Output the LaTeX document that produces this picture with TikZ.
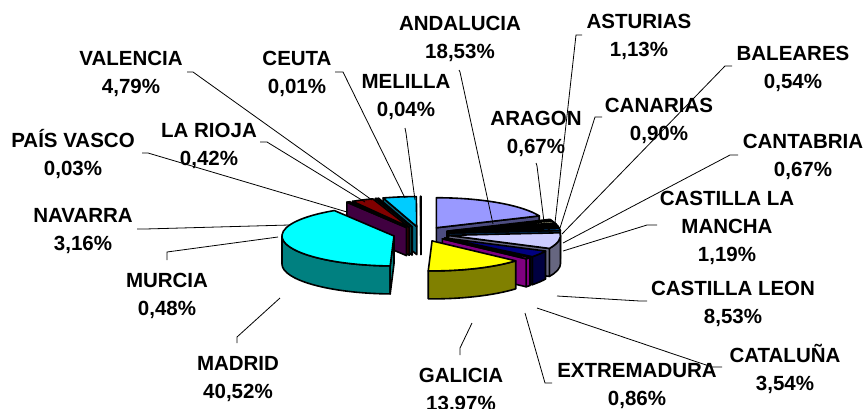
\documentclass[tikz,border=0pt]{standalone}
\usepackage{fontspec}
\setmainfont{Liberation Sans}
\definecolor{cAnd}{HTML}{9999FF}
\definecolor{cAra}{HTML}{993366}
\definecolor{cAst}{HTML}{FFFFCC}
\definecolor{cBal}{HTML}{CCFFFF}
\definecolor{cCan}{HTML}{660066}
\definecolor{cCnt}{HTML}{FF8080}
\definecolor{cClm}{HTML}{0066CC}
\definecolor{cCyl}{HTML}{CCCCFF}
\definecolor{cCat}{HTML}{000080}
\definecolor{cExt}{HTML}{FF00FF}
\definecolor{cGal}{HTML}{FFFF00}
\definecolor{cMad}{HTML}{00FFFF}
\definecolor{cMur}{HTML}{800080}
\definecolor{cNav}{HTML}{800000}
\definecolor{cPva}{HTML}{008080}
\definecolor{cRio}{HTML}{0000FF}
\definecolor{cVal}{HTML}{00CCFF}
\definecolor{cCeu}{HTML}{CCFFFF}
\definecolor{cMel}{HTML}{CCFFCC}
\def\cx{421}\def\cy{-234}\def\rx{112}\def\ry{30}\def\hh{28}\def\ed{28}
\tikzset{
  pie/.style={draw=black, line width=1.6pt, line join=round},
  lab/.style={anchor=base, align=center, inner sep=0pt, font=\fontsize{20.5}{28}\selectfont\bfseries},
  lead/.style={draw=black, line width=0.8pt}
}
\newcommand\pieslice[3]{%
  \pgfmathsetmacro\pMs{(#1+#2)/2}%
  \pgfmathsetmacro\pAx{\cx+\ed*cos(\pMs)}%
  \pgfmathsetmacro\pAy{\cy+\ed*\ry/\rx*sin(\pMs)}%
  \pgfmathsetmacro\pLo{max(#2,-180)}%
  \pgfmathsetmacro\pHi{min(#1,0)}%
  \pgfmathsetmacro\pCs{cos(#1)}%
  \pgfmathsetmacro\pCe{cos(#2)}%
  \ifdim\pLo pt<\pHi pt
    \filldraw[pie, fill=#3!50!black] ({\pAx+\rx*cos(\pHi)},{\pAy+\ry*sin(\pHi)}) arc[start angle=\pHi,end angle=\pLo,x radius=\rx,y radius=\ry] -- ++(0,-\hh) arc[start angle=\pLo,end angle=\pHi,x radius=\rx,y radius=\ry] -- cycle;
  \fi
  \ifdim\pCs pt<-0.001pt
    \filldraw[pie, fill=#3!50!black] ({\pAx},{\pAy}) -- ({\pAx+\rx*cos(#1)},{\pAy+\ry*sin(#1)}) -- ++(0,-\hh) -- ({\pAx},{\pAy-\hh}) -- cycle;
  \fi
  \ifdim\pCe pt>0.001pt
    \filldraw[pie, fill=#3!50!black] ({\pAx},{\pAy}) -- ({\pAx+\rx*cos(#2)},{\pAy+\ry*sin(#2)}) -- ++(0,-\hh) -- ({\pAx},{\pAy-\hh}) -- cycle;
  \fi
  \filldraw[pie, fill=#3] ({\pAx},{\pAy}) -- ({\pAx+\rx*cos(#1)},{\pAy+\ry*sin(#1)}) arc[start angle=#1,end angle=#2,x radius=\rx,y radius=\ry] -- cycle;
}
\newcommand\leader[4]{%
  \coordinate (#1-a) at (#2);
  \coordinate (#1-b) at (#3);
  \coordinate (#1-c) at (#4);
  \draw[lead] (#1-a) -- (#1-b) -- (#1-c);
}
\begin{document}
\begin{tikzpicture}[x=1pt,y=1pt]
\useasboundingbox (0,0) rectangle (867,-408);
\fill[white] (0,0) rectangle (867,-408);
% slices, back to front
\pieslice{90.14}{90.00}{cMel}
\pieslice{90.18}{90.14}{cCeu}
\pieslice{107.43}{90.18}{cVal}
\pieslice{108.94}{107.43}{cRio}
\pieslice{109.05}{108.94}{cPva}
\pieslice{120.43}{109.05}{cNav}
\pieslice{122.15}{120.43}{cMur}
\pieslice{90}{23.28}{cAnd}
\pieslice{23.28}{20.87}{cAra}
\pieslice{20.87}{16.80}{cAst}
\pieslice{16.80}{14.85}{cBal}
\pieslice{14.85}{11.61}{cCan}
\pieslice{11.61}{9.20}{cCnt}
\pieslice{9.20}{4.92}{cClm}
\pieslice{4.92}{-25.80}{cCyl}
\pieslice{-91.94}{-237.85}{cMad}
\pieslice{-25.80}{-38.55}{cCat}
\pieslice{-38.55}{-41.64}{cExt}
\pieslice{-41.64}{-91.94}{cGal}
% leader lines
\leader{and}{459,-70}{460,-72}{493,-224}
\leader{ast}{582,-35}{576,-35}{555,-223}
\leader{ara}{536,-163}{537,-166}{544,-222}
\leader{cna}{602,-117}{595,-117}{560,-228}
\leader{bal}{732,-66}{725,-66}{562,-234}
\leader{cnt}{738,-155}{730,-155}{563,-243}
\leader{clm}{657,-225}{647,-225}{563,-251}
\leader{cyl}{647,-301}{640,-301}{557,-296}
\leader{cat}{722,-367}{712,-367}{537,-308}
\leader{ext}{552,-383}{545,-383}{525,-313}
\leader{gal}{460,-355}{460,-348}{472,-323}
\leader{mad}{237,-343}{237,-337}{280,-298}
\leader{mur}{167,-260}{167,-252}{278,-237}
\leader{nav}{137,-229}{145,-229}{289,-225}
\leader{pva}{142,-153}{148,-153}{347,-212}
\leader{rio}{260,-142}{267,-142}{365,-202}
\leader{val}{187,-72}{193,-72}{372,-200}
\leader{ceu}{335,-72}{343,-72}{405,-198}
\leader{mel}{405,-128}{406,-133}{415,-200}
% labels (anchor = baseline of last line)
\node[lab] (andalucia) at (460,-58) {ANDALUCIA\\18,53\%};
\node[lab] (asturias) at (639,-56) {ASTURIAS\\1,13\%};
\node[lab] (baleares) at (793,-88) {BALEARES\\0,54\%};
\node[lab] (aragon) at (536,-153) {ARAGON\\0,67\%};
\node[lab] (canarias) at (659,-140) {CANARIAS\\0,90\%};
\node[lab] (cantabria) at (803,-176) {CANTABRIA\\0,67\%};
\node[lab] (clm) at (727,-261) {CASTILLA LA\\MANCHA\\1,19\%};
\node[lab] (cyl) at (733,-323) {CASTILLA LEON\\8,53\%};
\node[lab] (cataluna) at (785,-390) {CATALUÑA\\3,54\%};
\node[lab] (extremadura) at (637,-405) {EXTREMADURA\\0,86\%};
\node[lab] (galicia) at (461,-410) {GALICIA\\13,97\%};
\node[lab] (madrid) at (238,-398) {MADRID\\40,52\%};
\node[lab] (murcia) at (167,-315) {MURCIA\\0,48\%};
\node[lab] (navarra) at (83,-250) {NAVARRA\\3,16\%};
\node[lab] (paisvasco) at (73,-175) {PAÍS VASCO\\0,03\%};
\node[lab] (larioja) at (209,-165) {LA RIOJA\\0,42\%};
\node[lab] (valencia) at (131,-93) {VALENCIA\\4,79\%};
\node[lab] (ceuta) at (297,-93) {CEUTA\\0,01\%};
\node[lab] (melilla) at (406,-116) {MELILLA\\0,04\%};
\end{tikzpicture}
\end{document}
